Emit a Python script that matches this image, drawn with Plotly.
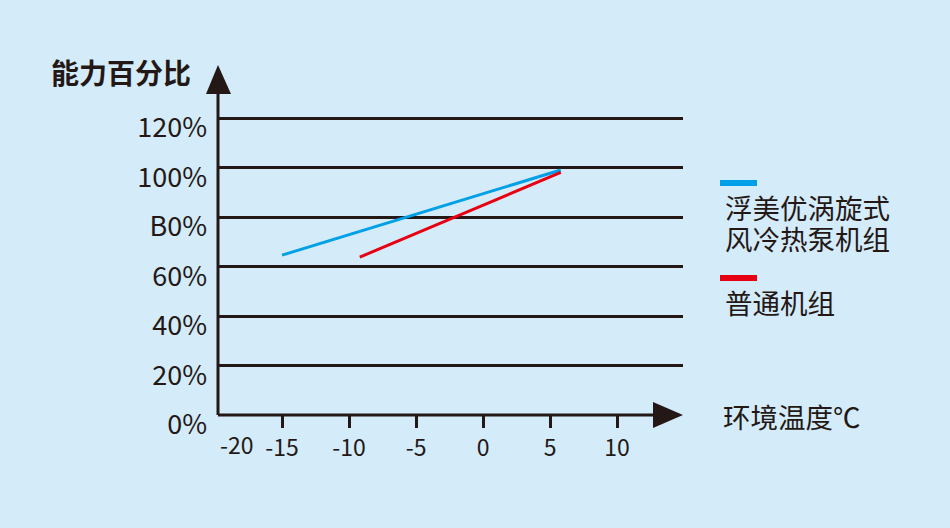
import plotly.graph_objects as go

# ---- data ----
x_blue = [-15, 5.8]
y_blue = [64.6, 99]
x_red = [-9.2, 5.8]
y_red = [63.8, 98]
series_names = ["浮美优涡旋式\n风冷热泵机组", "普通机组"]
series_colors = ["#00a0e9", "#e60012"]
y_tick_vals = [0, 20, 40, 60, 80, 100, 120]
y_tick_text = ["0%", "20%", "40%", "60%", "B0%", "100%", "120%"]
x_tick_vals = [-15, -10, -5, 0, 5, 10]
x_tick_text = ["-15", "-10", "-5", "0", "5", "10"]
x_first_label = "-20"
y_title = "能力百分比"
x_title = "环境温度℃"

# ---- geometry (pixels) ----
W, H = 950, 528
L, R, T, B = 218, 683, 65, 415
INK = "#231815"
BG = "#d4ebf9"
FONT = "Noto Sans CJK SC"

def px(xp):
    return (xp - L) / (R - L)

def py(yp):
    return (B - yp) / (B - T)

fig = go.Figure()
for xs, ys, name, col in [(x_blue, y_blue, series_names[0], series_colors[0]),
                          (x_red, y_red, series_names[1], series_colors[1])]:
    fig.add_trace(go.Scatter(x=xs, y=ys, mode="lines", name=name,
                             line=dict(color=col, width=3), showlegend=False,
                             hoverinfo="skip"))

shapes = []
# y axis line + arrow
shapes.append(dict(type="line", xref="paper", yref="paper", x0=0, x1=0,
                   y0=0, y1=py(92), line=dict(color=INK, width=3)))
shapes.append(dict(type="path", xref="paper", yref="paper",
                   path=f"M {px(206)},{py(94)} L {px(218)},{py(65)} L {px(231)},{py(94)} Z",
                   fillcolor=INK, line=dict(color=INK, width=0)))
# x axis line + arrow
shapes.append(dict(type="line", xref="paper", yref="paper", x0=0, x1=px(656),
                   y0=0, y1=0, line=dict(color=INK, width=3)))
shapes.append(dict(type="path", xref="paper", yref="paper",
                   path=f"M {px(653)},{py(402)} L {px(683)},{py(415)} L {px(653)},{py(428)} Z",
                   fillcolor=INK, line=dict(color=INK, width=0)))

annotations = []
annotations.append(dict(text=f"<b>{y_title}</b>", xref="paper", yref="paper",
                        x=px(121), y=py(72), xanchor="center", yanchor="middle",
                        showarrow=False, font=dict(family=FONT, size=28, color=INK)))
annotations.append(dict(text=x_title, xref="paper", yref="paper",
                        x=px(721), y=py(416), xanchor="left", yanchor="middle",
                        showarrow=False, font=dict(family=FONT, size=27.5, color=INK)))
annotations.append(dict(text=x_first_label, xref="paper", yref="paper",
                        x=px(237), y=py(444),
                        xanchor="center", yanchor="middle",
                        showarrow=False, font=dict(family=FONT, size=23, color=INK)))

# legend (custom)
legend_bar_y = [183, 278]
for i, (name, col) in enumerate(zip(series_names, series_colors)):
    by = legend_bar_y[i]
    shapes.append(dict(type="line", xref="paper", yref="paper",
                       x0=px(720), x1=px(757), y0=py(by), y1=py(by),
                       line=dict(color=col, width=6)))
    for j, line in enumerate(name.split("\n")):
        annotations.append(dict(text=line, xref="paper", yref="paper",
                                x=px(723), y=py(by + 24 + 31 * j),
                                xanchor="left", yanchor="middle", showarrow=False,
                                font=dict(family=FONT, size=27.5, color=INK)))

fig.update_layout(
    width=W, height=H, autosize=False,
    margin=dict(l=L, r=W - R, t=T, b=H - B, pad=0),
    paper_bgcolor=BG, plot_bgcolor=BG,
    shapes=shapes, annotations=annotations,
    xaxis=dict(range=[-19.78, -19.78 + (R - L) / 13.4], showgrid=False, zeroline=False,
               showline=False, tickvals=x_tick_vals, ticktext=x_tick_text,
               ticks="outside", ticklen=12, tickwidth=2.5, tickcolor=INK,
               ticklabelstandoff=0,
               tickfont=dict(family=FONT, size=23, color=INK), fixedrange=True),
    yaxis=dict(range=[0, (B - T) / 2.475], showgrid=True, gridcolor=INK, gridwidth=2.5,
               zeroline=False, showline=False, tickvals=y_tick_vals, ticktext=y_tick_text,
               ticks="", ticklabelstandoff=10, ticklabelshift=10,
               tickfont=dict(family=FONT, size=27, color=INK), fixedrange=True),
    showlegend=False,
)

fig.write_html("out.html", config={"displayModeBar": False},
               post_script="document.body.style.margin='0';document.body.style.background='%s';" % BG)
